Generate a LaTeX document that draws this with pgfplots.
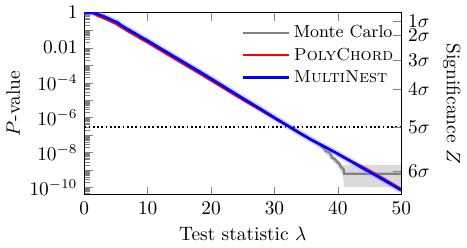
\documentclass[border=0pt]{standalone}
\usepackage{pgfplots}
\pgfplotsset{compat=1.18}
\definecolor{mcgray}{RGB}{128,128,128}
\definecolor{bandgray}{RGB}{218,218,218}
\definecolor{halo}{RGB}{150,150,255}
\begin{document}
\begin{tikzpicture}
\begin{axis}[
  width=163.6pt, height=94pt, scale only axis,
  xmin=0, xmax=50, ymode=log, ymin=3.9e-11, ymax=1,
  xtick={0,10,20,30,40,50},
  ytick={1,1e-1,1e-2,1e-3,1e-4,1e-5,1e-6,1e-7,1e-8,1e-9,1e-10},
  yticklabels={$1$,,$0.01$,,$10^{-4}$,,$10^{-6}$,,$10^{-8}$,,$10^{-10}$},
  minor ytick={
   9e-1,8e-1,7e-1,6e-1,5e-1,4e-1,3e-1,2e-1,
   9e-2,8e-2,7e-2,6e-2,5e-2,4e-2,3e-2,2e-2,
   9e-3,8e-3,7e-3,6e-3,5e-3,4e-3,3e-3,2e-3,
   9e-4,8e-4,7e-4,6e-4,5e-4,4e-4,3e-4,2e-4,
   9e-5,8e-5,7e-5,6e-5,5e-5,4e-5,3e-5,2e-5,
   9e-6,8e-6,7e-6,6e-6,5e-6,4e-6,3e-6,2e-6,
   9e-7,8e-7,7e-7,6e-7,5e-7,4e-7,3e-7,2e-7,
   9e-8,8e-8,7e-8,6e-8,5e-8,4e-8,3e-8,2e-8,
   9e-9,8e-9,7e-9,6e-9,5e-9,4e-9,3e-9,2e-9,
   9e-10,8e-10,7e-10,6e-10,5e-10,4e-10,3e-10,2e-10,
   9e-11,8e-11,7e-11,6e-11,5e-11,4e-11},
  ytick pos=left, xtick pos=both,
  tick align=inside,
  xlabel={Test statistic $\lambda$},
  ylabel={$P$-value},
  ylabel style={yshift=-2pt},
  legend style={draw=none, fill=none, at={(0.477,0.975)}, anchor=north west,
    font=\small, row sep=-0.3pt, cells={anchor=west}},
  legend image code/.code={\draw[#1] (0pt,0pt) -- (23.5pt,0pt);},
]
% 5 sigma line
\addplot[black, line width=0.9pt, dash pattern=on 0.9pt off 1.3pt, forget plot]
  coordinates {(0,2.87e-7) (50,2.87e-7)};
% Monte Carlo uncertainty band
\addplot[fill=bandgray, draw=none, forget plot] coordinates {
 (37,3.6e-8) (38,1.6e-8) (39,8.5e-9) (40,3.8e-9) (40.7,2.0e-9) (50,2.0e-9)
 (50,1.1e-10) (41,1.1e-10) (40.8,5e-10) (40,1.6e-9) (39,4.0e-9) (38,9e-9) (37,2.5e-8)
} -- cycle;
% Monte Carlo
\addplot[color=mcgray, line width=1.2pt] coordinates {
 (0,1) (1,0.99) (2,0.81) (3,0.59) (4,0.40) (5,0.27) (6,0.17) (8,0.06) (10,0.023)
 (14,3.1e-3) (20,1.6e-4) (26,7.2e-6) (30,9.5e-7) (34,1.3e-7) (36,5e-8)
 (37.1,2.95e-8) (37.8,1.8e-8) (38.1,1.23e-8) (38.6,1.1e-8) (38.9,7.94e-9)
 (39.1,5.01e-9) (39.5,4.5e-9) (39.7,3.55e-9) (40.05,2.63e-9) (40.2,2.5e-9)
 (40.4,1.70e-9) (40.9,1.12e-9) (41.0,6.31e-10) (50,6.31e-10)
};
\addlegendentry{Monte Carlo}
% MultiNest halo
\addplot[color=halo, line width=3.2pt, opacity=0.4, forget plot] coordinates {
 (0,1) (1,0.99) (1.6,0.955) (2,0.851) (3,0.631) (4,0.437) (4.6,0.339) (5.2,0.282)
 (5.8,0.191) (7,0.105) (8,0.0661) (9,0.0398) (10,0.0251) (12,9.12e-3) (14,3.39e-3)
 (16,1.26e-3) (18,4.68e-4) (20,1.70e-4) (22,6.03e-5) (24,2.14e-5) (26,7.76e-6)
 (28,2.82e-6) (30,1.0e-6) (32,3.63e-7) (34,1.32e-7) (36,5.01e-8) (38,2.09e-8)
 (40,8.51e-9) (42,3.31e-9) (44,1.26e-9) (46,5.01e-10) (48,1.91e-10) (50,7.08e-11)
};
% PolyChord
\addplot[color=red, line width=0.9pt] coordinates {
 (0,1) (1.3,0.98) (2,0.676) (3,0.479) (4,0.331) (5,0.224) (6,0.132) (7,0.0794)
 (8,0.0501) (9,0.0302) (10,0.0191) (12,6.92e-3) (14,2.57e-3) (16,9.55e-4)
 (18,3.55e-4) (20,1.29e-4) (22,4.68e-5) (24,1.70e-5) (26,6.31e-6) (28,2.40e-6)
 (30,8.91e-7) (32,3.47e-7) (34,1.26e-7) (36,4.90e-8) (38,2.04e-8) (40,8.71e-9)
 (42,3.55e-9) (44,1.51e-9) (46,6.03e-10) (48,2.29e-10) (50,8.51e-11)
};
\addlegendentry{\textsc{PolyChord}}
% MultiNest
\addplot[color=blue, line width=1.4pt] coordinates {
 (0,1) (1,0.99) (1.6,0.955) (2,0.851) (3,0.631) (4,0.437) (4.6,0.339) (5.2,0.282)
 (5.8,0.191) (7,0.105) (8,0.0661) (9,0.0398) (10,0.0251) (12,9.12e-3) (14,3.39e-3)
 (16,1.26e-3) (18,4.68e-4) (20,1.70e-4) (22,6.03e-5) (24,2.14e-5) (26,7.76e-6)
 (28,2.82e-6) (30,1.0e-6) (32,3.63e-7) (34,1.32e-7) (36,5.01e-8) (38,2.09e-8)
 (40,8.51e-9) (42,3.31e-9) (44,1.26e-9) (46,5.01e-10) (48,1.91e-10) (50,7.08e-11)
};
\addlegendentry{\textsc{MultiNest}}
\end{axis}
\begin{axis}[
  width=163.6pt, height=94pt, scale only axis,
  xmin=0, xmax=50, ymode=log, ymin=3.9e-11, ymax=1,
  axis x line=none, axis y line*=right,
  ytick={0.31,0.054,2e-3,4.5e-5,2.87e-7,8.3e-10},
  yticklabels={$1\sigma$,$2\sigma$,$3\sigma$,$4\sigma$,$5\sigma$,$6\sigma$},
  yminorticks=false,
  tick align=inside,
  ylabel={Significance $Z$},
  ylabel style={rotate=180},
]
\end{axis}
\end{tikzpicture}
\end{document}
